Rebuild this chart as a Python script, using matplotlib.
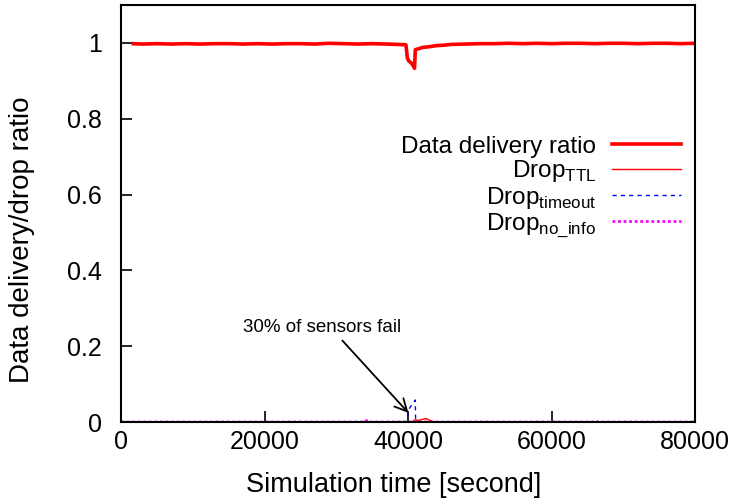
import matplotlib
matplotlib.use('Agg')
import matplotlib.pyplot as plt

plt.rcParams['font.family'] = ['Liberation Sans', 'DejaVu Sans']
plt.rcParams['mathtext.fontset'] = 'custom'
plt.rcParams['mathtext.rm'] = 'Liberation Sans'

# Data delivery ratio over simulation time
t_delivery = [1700, 3000, 5000, 7000, 9000, 11000, 13000, 15000, 17000, 19000,
              21000, 23000, 25000, 27000, 29000, 31000, 33000, 35000, 37000, 38500,
              39700, 39900, 40100, 40400, 40700, 40900, 41000, 41500, 42000, 43000,
              44000, 45000, 46000, 48000, 50000, 52000, 54000, 56000, 58000, 60000,
              62000, 64000, 66000, 68000, 70000, 72000, 74000, 76000, 78000, 80000]
delivery = [0.998, 0.997, 0.998, 0.997, 0.998, 0.997, 0.998, 0.998, 0.997, 0.998,
            0.997, 0.998, 0.998, 0.997, 0.999, 0.998, 0.997, 0.998, 0.997, 0.996,
            0.995, 0.960, 0.952, 0.948, 0.940, 0.933, 0.982, 0.985, 0.988, 0.990,
            0.993, 0.994, 0.996, 0.997, 0.998, 0.998, 0.999, 0.998, 0.999, 0.998,
            0.999, 0.999, 0.998, 0.999, 0.999, 0.998, 0.999, 0.999, 0.998, 0.999]

# Drops caused by TTL expiry
t_ttl = [0, 40500, 41000, 41500, 42000, 42500, 43000, 43500, 44000, 80000]
drop_ttl = [0.0, 0.0, 0.006, 0.004, 0.007, 0.009, 0.005, 0.001, 0.0, 0.0]

# Drops caused by timeout
t_timeout = [0, 39900, 40000, 40500, 41000, 41050, 80000]
drop_timeout = [0.0, 0.0, 0.03, 0.045, 0.058, 0.0, 0.0]

# Drops caused by missing routing information
t_noinfo = [0, 34000, 34200, 34400, 40500, 40700, 40900, 66000, 66200, 66400, 80000]
drop_noinfo = [0.0, 0.0, 0.004, 0.0, 0.0, 0.003, 0.0, 0.0, 0.003, 0.0, 0.0]

fig = plt.figure(figsize=(7.34, 5.0), dpi=100)
ax = fig.add_axes([0.165, 0.156, 0.782, 0.834])

ax.plot(t_delivery, delivery, color='#ff0000', lw=2.6, label='Data delivery ratio')
ax.plot(t_ttl, drop_ttl, color='#ff0000', lw=1.0, label='Drop$_{\\mathregular{TTL}}$')
ax.plot(t_timeout, drop_timeout, color='#0000ff', lw=1.0, ls=(0, (3, 3)),
        label='Drop$_{\\mathregular{timeout}}$')
ax.plot(t_noinfo, drop_noinfo, color='#ff00ff', lw=2.0, ls=(0, (1, 1)),
        label='Drop$_{\\mathregular{no\\_info}}$')

ax.annotate('30% of sensors fail', xy=(40050, 0.024), xytext=(17000, 0.25),
            fontsize=13.5, va='center',
            arrowprops=dict(arrowstyle='->', color='black', lw=1.3,
                            shrinkA=2, shrinkB=0, mutation_scale=22,
                            relpos=(0.6, 0.0)))

ax.set_xlim(0, 80000)
ax.set_ylim(0, 1.1)
ax.set_xticks([0, 20000, 40000, 60000, 80000])
ax.set_yticks([0, 0.2, 0.4, 0.6, 0.8, 1])
ax.set_yticklabels(['0', '0.2', '0.4', '0.6', '0.8', '1'])
ax.tick_params(direction='in', length=8, width=1.2, labelsize=18)
ax.tick_params(axis='x', pad=6)
ax.tick_params(axis='y', pad=14)
for side in ax.spines.values():
    side.set_linewidth(1.5)

ax.set_xlabel('Simulation time [second]', fontsize=19.5, va='center')
ax.xaxis.set_label_coords(0.475, -0.151)
ax.set_ylabel('Data delivery/drop ratio', fontsize=20, va='center')
ax.yaxis.set_label_coords(-0.173, 0.436)

leg = ax.legend(loc='upper right', bbox_to_anchor=(1.0, 0.72), frameon=False,
                fontsize=17.5, markerfirst=False, handlelength=2.85,
                handletextpad=0.65, labelspacing=0.02, borderpad=0.0,
                borderaxespad=0.58)
for txt in leg.get_texts():
    txt.set_ha('right')
leg._legend_box.align = 'right'

fig.savefig('out.png', dpi=100)
